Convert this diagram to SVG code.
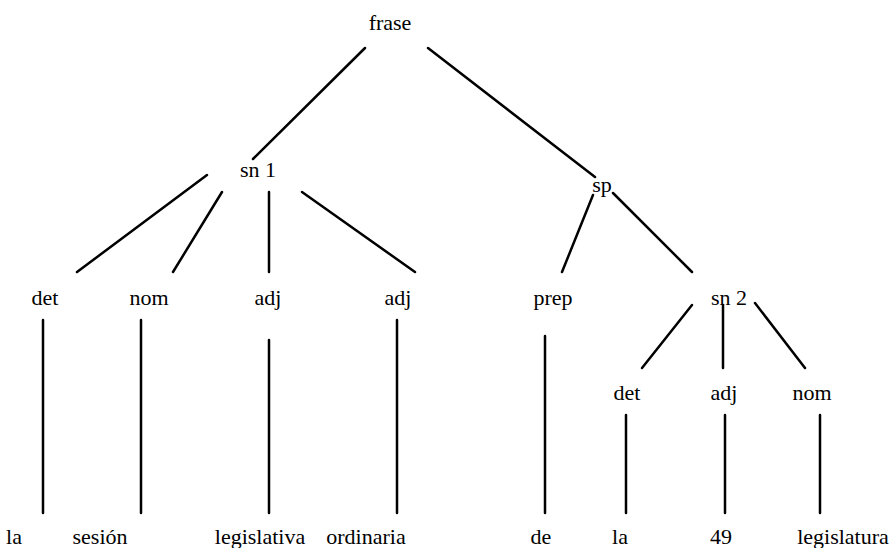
<svg xmlns="http://www.w3.org/2000/svg" width="890" height="548" viewBox="0 0 890 548">
<style>
text{font-family:"Liberation Serif","Times New Roman",serif;font-size:22px;fill:#000;text-anchor:middle}
line{stroke:#000;stroke-width:2.5;stroke-linecap:round}
</style>
<rect width="890" height="548" fill="#fff"/>
<g id="connectors">
<line x1="365" y1="48" x2="253" y2="159"/>
<line x1="428" y1="48" x2="595" y2="177"/>
<line x1="207" y1="175" x2="77" y2="272"/>
<line x1="222" y1="192" x2="173" y2="272"/>
<line x1="269" y1="192" x2="269" y2="272"/>
<line x1="302" y1="192" x2="415" y2="272"/>
<line x1="593" y1="195" x2="562" y2="272"/>
<line x1="613" y1="193" x2="692" y2="272"/>
<line x1="692" y1="305" x2="642" y2="368"/>
<line x1="723" y1="305" x2="723" y2="368"/>
<line x1="755" y1="303" x2="805" y2="368"/>
<line x1="43" y1="320" x2="43" y2="513"/>
<line x1="141" y1="320" x2="141" y2="513"/>
<line x1="269" y1="340" x2="269" y2="513"/>
<line x1="397" y1="320" x2="397" y2="513"/>
<line x1="545" y1="336" x2="545" y2="513"/>
<line x1="626" y1="415" x2="626" y2="513"/>
<line x1="725" y1="415" x2="725" y2="513"/>
<line x1="820" y1="415" x2="820" y2="513"/>
</g>
<g id="frase"><text x="390" y="30">frase</text></g>
<g id="sn1"><text x="258" y="177">sn 1</text></g>
<g id="sp"><text x="602" y="192">sp</text></g>
<g id="det1"><text x="45" y="305">det</text></g>
<g id="nom1"><text x="149" y="305">nom</text></g>
<g id="adj1"><text x="268" y="305">adj</text></g>
<g id="adj2"><text x="398" y="305">adj</text></g>
<g id="prep"><text x="553" y="305">prep</text></g>
<g id="sn2"><text x="729" y="305">sn 2</text></g>
<g id="det2"><text x="627" y="400">det</text></g>
<g id="adj3"><text x="724" y="400">adj</text></g>
<g id="nom2"><text x="812" y="400">nom</text></g>
<g id="w-la1"><text x="14" y="544">la</text></g>
<g id="w-sesion"><text x="100" y="544">sesión</text></g>
<g id="w-legislativa"><text x="260" y="544">legislativa</text></g>
<g id="w-ordinaria"><text x="366" y="544">ordinaria</text></g>
<g id="w-de"><text x="541" y="544">de</text></g>
<g id="w-la2"><text x="620" y="544">la</text></g>
<g id="w-49"><text x="721" y="544">49</text></g>
<g id="w-legislatura"><text x="843" y="544">legislatura</text></g>
</svg>
